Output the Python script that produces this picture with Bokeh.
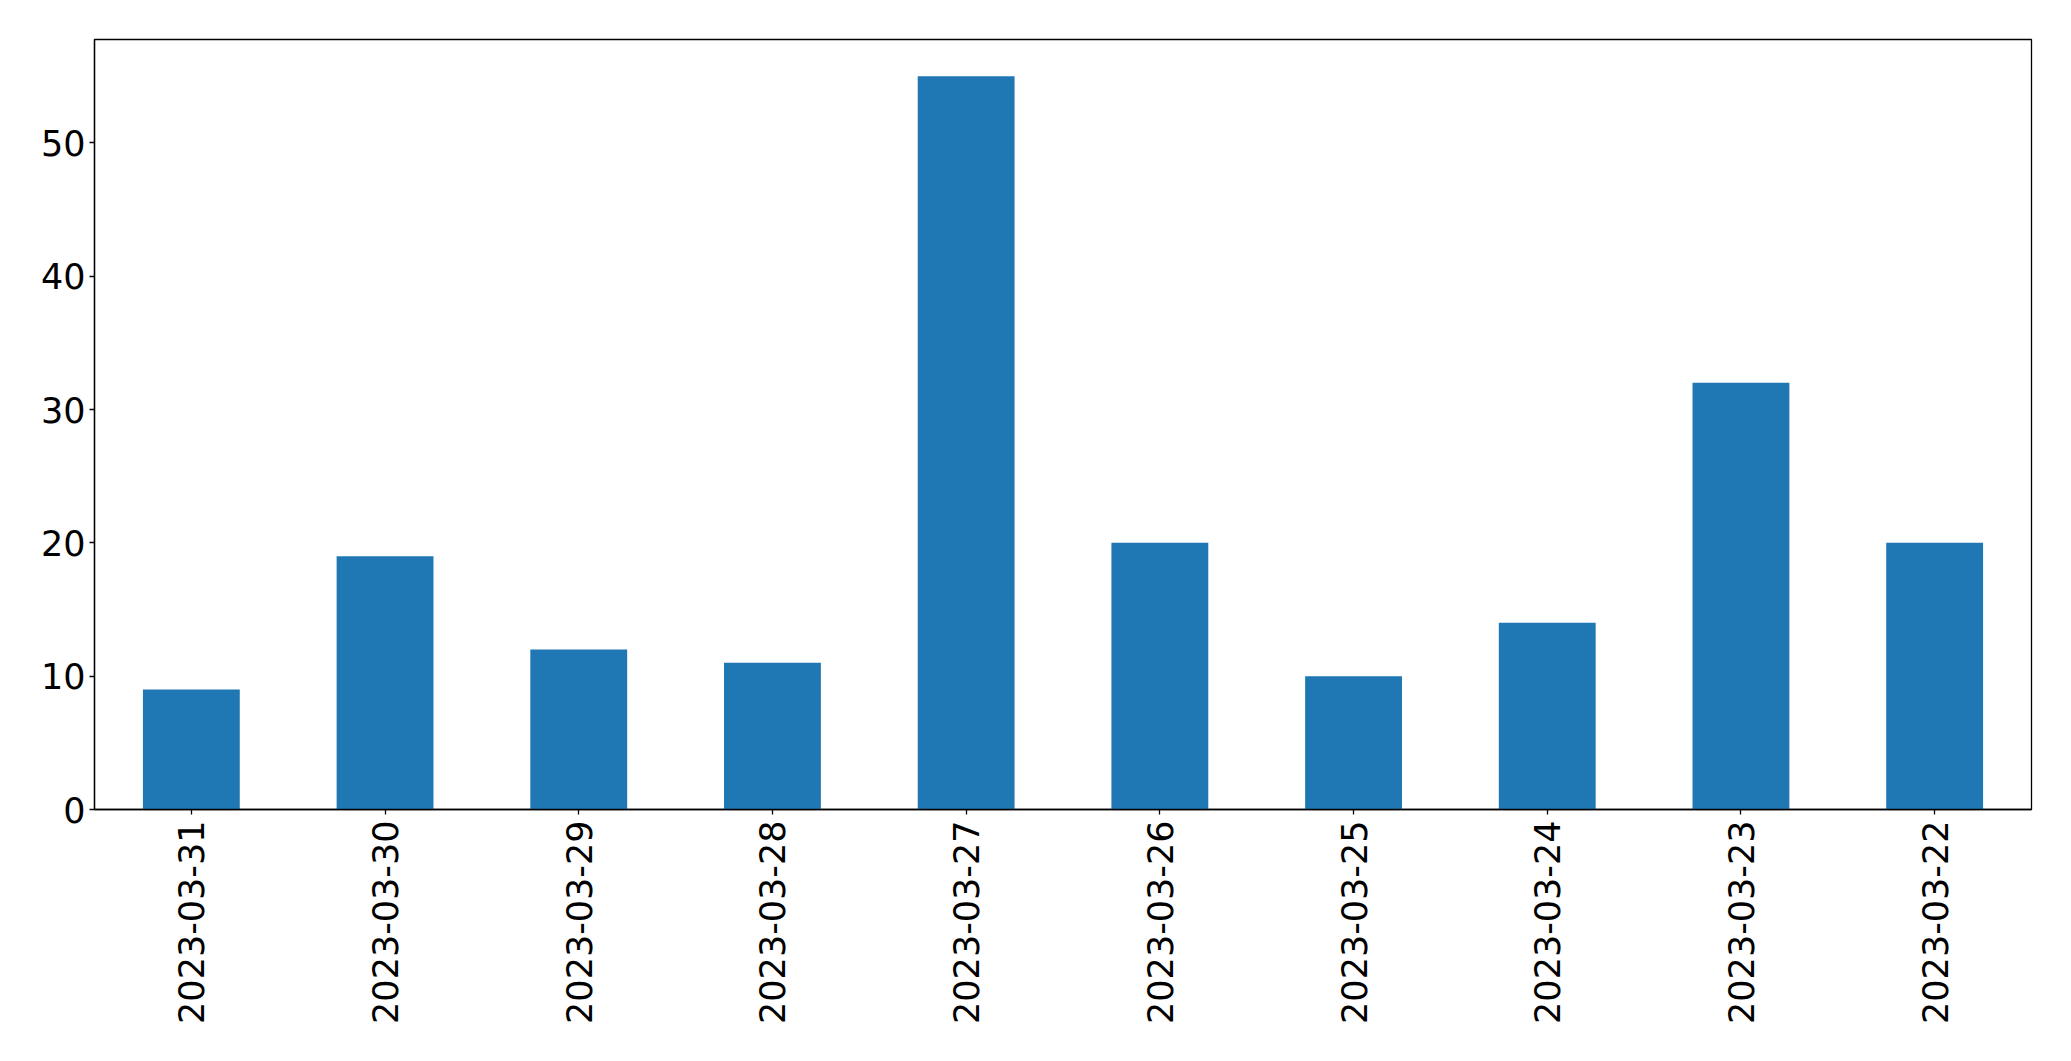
import math
from bokeh.plotting import figure
from bokeh.models import ColumnDataSource, FactorRange, Range1d, FixedTicker
from bokeh.embed import file_html
from bokeh.resources import INLINE

dates = ["2023-03-31", "2023-03-30", "2023-03-29", "2023-03-28", "2023-03-27",
         "2023-03-26", "2023-03-25", "2023-03-24", "2023-03-23", "2023-03-22"]
counts = [9, 19, 12, 11, 55, 20, 10, 14, 32, 20]
y_ticks = [0, 10, 20, 30, 40, 50]

source = ColumnDataSource(data=dict(date=dates, count=counts))

p = figure(width=2055, height=1045, output_backend="svg", toolbar_location=None,
           x_range=FactorRange(factors=dates, range_padding=0),
           y_range=Range1d(0, max(counts) * 1.05),
           min_border_left=94, min_border_top=39, min_border_right=24, min_border_bottom=236)

p.vbar(x="date", top="count", width=0.5, source=source,
       fill_color="#1f77b4", line_color=None)

p.xgrid.visible = False
p.ygrid.visible = False
p.outline_line_color = "black"
p.outline_line_width = 1.3
p.outline_line_alpha = 1

for ax in (p.xaxis, p.yaxis):
    ax.axis_line_color = "black"
    ax.axis_line_width = 1.3
    ax.major_tick_line_color = "black"
    ax.major_tick_line_width = 1.3
    ax.major_tick_out = 5
    ax.major_tick_in = 0
    ax.minor_tick_line_color = None
    ax.major_label_text_font = "DejaVu Sans"
    ax.major_label_text_font_size = "35px"
    ax.major_label_text_color = "black"

p.yaxis.ticker = FixedTicker(ticks=y_ticks)
p.yaxis.major_label_standoff = 4
p.xaxis.major_label_orientation = math.pi / 2
p.xaxis.major_label_standoff = 6

open("out.html", "w").write(file_html(p, INLINE))
